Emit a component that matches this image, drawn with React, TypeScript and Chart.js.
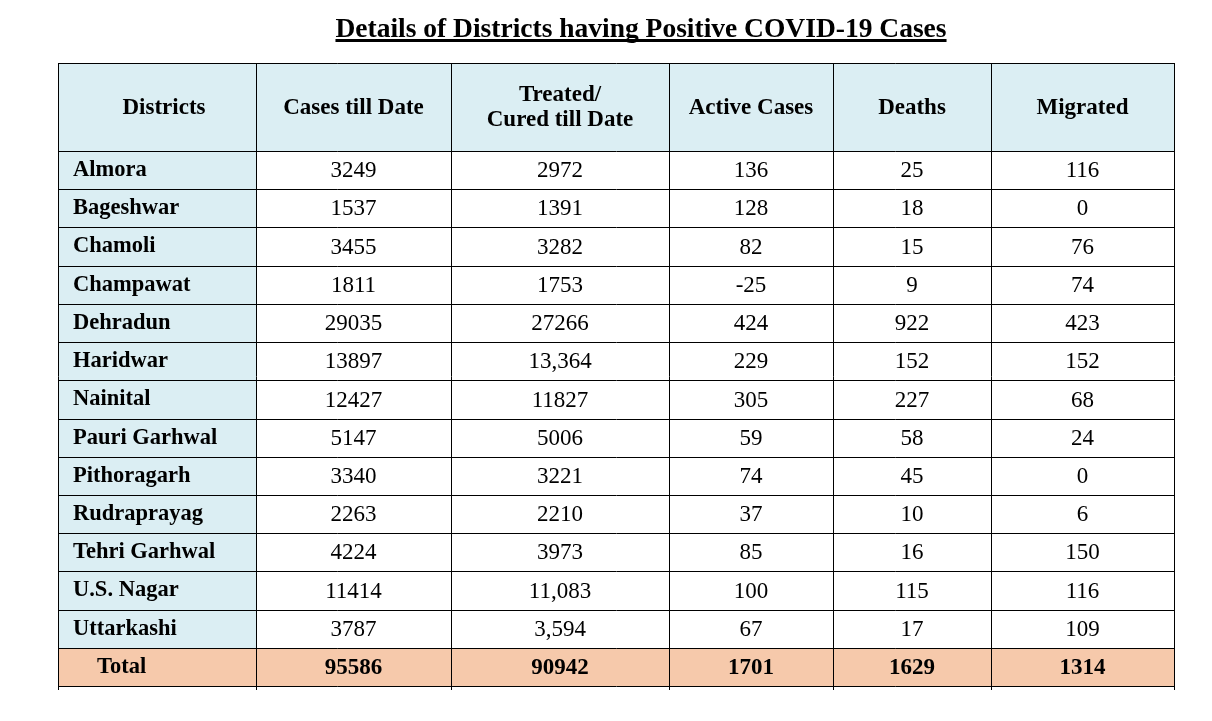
import React, { useEffect, useRef } from "react";
import { Chart, registerables } from "chart.js";

Chart.register(...registerables);

const titleText = "Details of Districts having Positive COVID-19 Cases";
const columnHeaders = ["Districts", "Cases till Date", "Treated/\nCured till Date", "Active Cases", "Deaths", "Migrated"];
const districts = [
  "Almora", "Bageshwar", "Chamoli", "Champawat", "Dehradun", "Haridwar", "Nainital",
  "Pauri Garhwal", "Pithoragarh", "Rudraprayag", "Tehri Garhwal", "U.S. Nagar", "Uttarkashi",
];
const casesTillDate = ["3249", "1537", "3455", "1811", "29035", "13897", "12427", "5147", "3340", "2263", "4224", "11414", "3787"];
const treatedCured = ["2972", "1391", "3282", "1753", "27266", "13,364", "11827", "5006", "3221", "2210", "3973", "11,083", "3,594"];
const activeCases = ["136", "128", "82", "-25", "424", "229", "305", "59", "74", "37", "85", "100", "67"];
const deaths = ["25", "18", "15", "9", "922", "152", "227", "58", "45", "10", "16", "115", "17"];
const migrated = ["116", "0", "76", "74", "423", "152", "68", "24", "0", "6", "150", "116", "109"];
const totalLabel = "Total";
const totals = ["95586", "90942", "1701", "1629", "1314"];

// layout (scale units)
const COL_WIDTHS = [198, 195, 218, 164, 158, 183];
const HEADER_H = 88;
const ROW_H = 38.2;

const HEADER_BG = "#DBEEF3";
const TOTAL_BG = "#F6C9AB";
const FONT = "'Liberation Serif', 'Times New Roman', serif";

export default function App() {
  const ref = useRef<HTMLCanvasElement | null>(null);

  useEffect(() => {
    const canvas = ref.current;
    if (!canvas) return;
    const colEdges = [0];
    COL_WIDTHS.forEach((w) => colEdges.push(colEdges[colEdges.length - 1] + w));
    const nRows = districts.length + 1;
    const rowEdges = [0, HEADER_H];
    for (let i = 0; i < nRows; i++) rowEdges.push(HEADER_H + (i + 1) * ROW_H);
    const dataCols = [casesTillDate, treatedCured, activeCases, deaths, migrated];

    const tablePlugin = {
      id: "tablePlugin",
      afterDraw(chart: any) {
        const ctx = chart.ctx as CanvasRenderingContext2D;
        const xs = chart.scales.x;
        const ys = chart.scales.y;
        const X = (v: number) => Math.round(xs.getPixelForValue(v));
        const Y = (v: number) => Math.round(ys.getPixelForValue(v));
        ctx.save();
        // backgrounds
        ctx.fillStyle = HEADER_BG;
        ctx.fillRect(X(0), Y(0), X(colEdges[6]) - X(0), Y(HEADER_H) - Y(0));
        ctx.fillRect(X(0), Y(HEADER_H), X(colEdges[1]) - X(0), Y(rowEdges[nRows]) - Y(HEADER_H));
        ctx.fillStyle = TOTAL_BG;
        ctx.fillRect(X(0), Y(rowEdges[nRows]), X(colEdges[6]) - X(0), Y(rowEdges[nRows + 1]) - Y(rowEdges[nRows]));

        // grid lines
        ctx.strokeStyle = "#000";
        ctx.lineWidth = 1;
        ctx.beginPath();
        rowEdges.forEach((r) => {
          const y = Y(r) + 0.5;
          ctx.moveTo(X(0), y);
          ctx.lineTo(X(colEdges[6]) + 1, y);
        });
        const bottom = Y(rowEdges[rowEdges.length - 1]);
        colEdges.forEach((c) => {
          const x = X(c) + 0.5;
          ctx.moveTo(x, Y(0));
          ctx.lineTo(x, bottom + 4);
        });
        ctx.stroke();

        // title
        ctx.fillStyle = "#000";
        ctx.font = `bold 27.5px ${FONT}`;
        ctx.textAlign = "center";
        ctx.textBaseline = "alphabetic";
        const cx = (X(0) + X(colEdges[6])) / 2 + 25;
        ctx.fillText(titleText, cx, 37);
        const tw = ctx.measureText(titleText).width;
        ctx.fillRect(cx - tw / 2, 39, tw, 3);

        // header text
        ctx.font = `bold 23px ${FONT}`;
        ctx.textBaseline = "middle";
        columnHeaders.forEach((h, i) => {
          const mx = (X(colEdges[i]) + X(colEdges[i + 1])) / 2 + (i === 0 ? 7 : 0);
          const my = (Y(0) + Y(HEADER_H)) / 2 + 1;
          const lines = h.split("\n");
          lines.forEach((ln, k) => {
            const off = (k - (lines.length - 1) / 2) * 25;
            ctx.fillText(ln, mx, my + off);
          });
        });

        // district rows
        for (let r = 0; r < nRows; r++) {
          const isTotal = r === districts.length;
          const my = (Y(rowEdges[r + 1]) + Y(rowEdges[r + 2])) / 2 + 1;
          ctx.font = `bold 22.5px ${FONT}`;
          ctx.textAlign = "left";
          if (isTotal) {
            ctx.fillText(totalLabel, X(0) + 39, my - 1);
          } else {
            ctx.fillText(districts[r], X(0) + 15, my - 1);
          }
          ctx.font = `${isTotal ? "bold " : ""}23px ${FONT}`;
          ctx.textAlign = "center";
          for (let c = 0; c < 5; c++) {
            const mx = (X(colEdges[c + 1]) + X(colEdges[c + 2])) / 2;
            const val = isTotal ? totals[c] : dataCols[c][r];
            ctx.fillText(val, mx, my);
          }
        }
        ctx.restore();
      },
    };

    const chart = new Chart(canvas, {
      type: "scatter",
      data: { datasets: [] },
      options: {
        animation: false,
        responsive: false,
        events: [],
        layout: { padding: { left: 58, right: 38, top: 63, bottom: 35 } },
        plugins: { legend: { display: false }, title: { display: false }, tooltip: { enabled: false } },
        scales: {
          x: { type: "linear", display: false, min: 0, max: COL_WIDTHS.reduce((a, b) => a + b, 0) },
          y: { type: "linear", display: false, reverse: true, min: 0, max: HEADER_H + (districts.length + 1) * ROW_H },
        },
      },
      plugins: [tablePlugin],
    });
    return () => chart.destroy();
  }, []);

  return (
    <div style={{ position: "absolute", left: 0, top: 0, width: 1212, height: 721, background: "#fff" }}>
      <canvas ref={ref} width={1212} height={721} style={{ display: "block" }} />
    </div>
  );
}
